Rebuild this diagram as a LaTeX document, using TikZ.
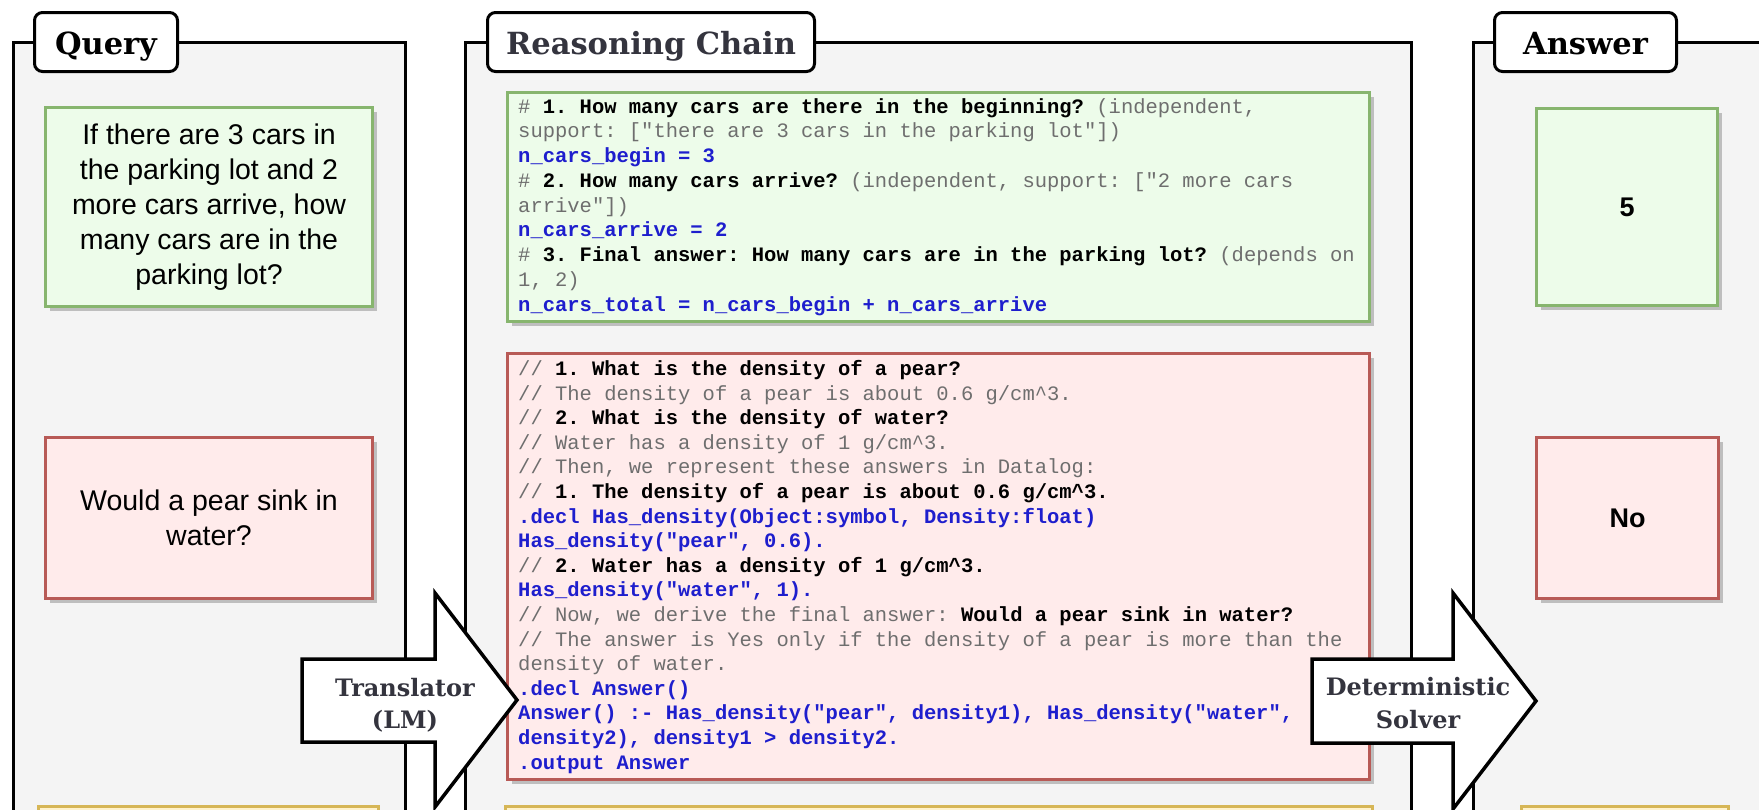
\documentclass[tikz,border=0pt]{standalone}
\usepackage{fontspec}
\newfontfamily\arialfont{Liberation Sans}
\newfontfamily\codefont{Liberation Mono}
\newfontfamily\titlefont{DejaVu Serif}
\definecolor{panelgray}{RGB}{244,244,244}
\definecolor{gfill}{RGB}{237,252,234}
\definecolor{gstroke}{RGB}{135,181,110}
\definecolor{rfill}{RGB}{255,235,235}
\definecolor{rstroke}{RGB}{184,90,86}
\definecolor{yfill}{RGB}{255,242,204}
\definecolor{ystroke}{RGB}{214,182,86}
\definecolor{cgray}{RGB}{110,110,110}
\definecolor{cblue}{RGB}{30,30,205}
\definecolor{labelgray}{RGB}{52,52,62}
\definecolor{shadowgray}{RGB}{190,190,190}
\newcommand\cgr[1]{\textcolor{cgray}{#1}}
\newcommand\cbk[1]{\textcolor{black}{\bfseries #1}}
\newcommand\cbl[1]{\textcolor{cblue}{\bfseries #1}}
\newcommand\codeln[3]{\node[codeline] (#1) at (518,#2) {#3};}
\tikzset{
  panel/.style={draw=black, line width=3pt, fill=panelgray, anchor=north west, inner sep=0pt, outer sep=0pt},
  titlebox/.style={draw=black, line width=3pt, fill=white, rounded corners=8pt, inner sep=0pt,
    font=\titlefont\bfseries\fontsize{30.5}{38}\selectfont, text height=24pt, text depth=0pt},
  shadowed/.style={preaction={draw=none, fill=shadowgray, transform canvas={xshift=4pt,yshift=-4pt}}},
  gbox/.style={draw=gstroke, fill=gfill, line width=3pt, inner sep=0pt, shadowed},
  rbox/.style={draw=rstroke, fill=rfill, line width=3pt, inner sep=0pt, shadowed},
  qtext/.style={font=\arialfont\fontsize{28.5}{35}\selectfont, align=center},
  anstext/.style={font=\arialfont\fontsize{27}{32}\selectfont\bfseries},
  codeline/.style={font=\codefont\fontsize{20.5}{24.6}\selectfont\frenchspacing, anchor=base west, inner sep=0pt},
  bigarrow/.style={draw=black, line width=3.5pt, fill=white, line join=miter},
  arrowlabel/.style={font=\titlefont\bfseries\fontsize{24}{32.5}\selectfont, text=labelgray, align=center, inner sep=0pt},
  ybox/.style={draw=ystroke, fill=yfill, line width=3pt},
}
\begin{document}
\begin{tikzpicture}[x=1pt,y=-1pt]
\useasboundingbox (0,0) rectangle (1759,809);
\clip (0,0) rectangle (1759,809);
\fill[white] (0,0) rectangle (1759,809);

% panels
\node[panel, minimum width=392, minimum height=820] (qpanel) at (13.5,42) {};
\node[panel, minimum width=946, minimum height=820] (rpanel) at (465.5,42) {};
\node[panel, minimum width=340, minimum height=820] (apanel) at (1473.5,42.5) {};

% titles
\node[titlebox, minimum width=143, minimum height=59] (qtitle) at (106,42) {Query};
\node[titlebox, minimum width=327, minimum height=59, text=labelgray] (rtitle) at (651,42) {Reasoning Chain};
\node[titlebox, minimum width=182, minimum height=59] (atitle) at (1585.5,42) {Answer};

% query boxes
\node[gbox, qtext, minimum width=327, minimum height=199] (qcars) at (209,207)
  {If there are 3 cars in\\the parking lot and 2\\more cars arrive, how\\many cars are in the\\parking lot?};
\node[rbox, qtext, minimum width=327, minimum height=161] (qpear) at (209,518)
  {Would a pear sink in\\water?};

% code boxes
\node[gbox, minimum width=862, minimum height=229] (ccars) at (938.5,207) {};
\node[rbox, minimum width=862, minimum height=426] (cpear) at (938.5,566.5) {};

\codeln{g1}{113}{\cgr{\# }\cbk{1. How many cars are there in the beginning?} \cgr{(independent,}}
\codeln{g2}{137.75}{\cgr{support: ["there are 3 cars in the parking lot"])}}
\codeln{g3}{162.5}{\cbl{n\_cars\_begin = 3}}
\codeln{g4}{187.25}{\cgr{\# }\cbk{2. How many cars arrive?} \cgr{(independent, support: ["2 more cars}}
\codeln{g5}{212}{\cgr{arrive"])}}
\codeln{g6}{236.75}{\cbl{n\_cars\_arrive = 2}}
\codeln{g7}{261.5}{\cgr{\# }\cbk{3. Final answer: How many cars are in the parking lot?} \cgr{(depends on}}
\codeln{g8}{286.25}{\cgr{1, 2)}}
\codeln{g9}{311}{\cbl{n\_cars\_total = n\_cars\_begin + n\_cars\_arrive}}

\codeln{r1}{375.5}{\cgr{// }\cbk{1. What is the density of a pear?}}
\codeln{r2}{400.1}{\cgr{// The density of a pear is about 0.6 g/cm\textasciicircum 3.}}
\codeln{r3}{424.7}{\cgr{// }\cbk{2. What is the density of water?}}
\codeln{r4}{449.3}{\cgr{// Water has a density of 1 g/cm\textasciicircum 3.}}
\codeln{r5}{473.9}{\cgr{// Then, we represent these answers in Datalog:}}
\codeln{r6}{498.5}{\cgr{// }\cbk{1. The density of a pear is about 0.6 g/cm\textasciicircum 3.}}
\codeln{r7}{523.1}{\cbl{.decl Has\_density(Object:symbol, Density:float)}}
\codeln{r8}{547.7}{\cbl{Has\_density("pear", 0.6).}}
\codeln{r9}{572.3}{\cgr{// }\cbk{2. Water has a density of 1 g/cm\textasciicircum 3.}}
\codeln{r10}{596.9}{\cbl{Has\_density("water", 1).}}
\codeln{r11}{621.5}{\cgr{// Now, we derive the final answer: }\cbk{Would a pear sink in water?}}
\codeln{r12}{646.1}{\cgr{// The answer is Yes only if the density of a pear is more than the}}
\codeln{r13}{670.7}{\cgr{density of water.}}
\codeln{r14}{695.3}{\cbl{.decl Answer()}}
\codeln{r15}{719.9}{\cbl{Answer() :- Has\_density("pear", density1), Has\_density("water",}}
\codeln{r16}{744.5}{\cbl{density2), density1 > density2.}}
\codeln{r17}{769.1}{\cbl{.output Answer}}

% answers
\node[gbox, anstext, minimum width=181, minimum height=197] (acars) at (1627,207) {5};
\node[rbox, anstext, minimum width=182, minimum height=161] (apear) at (1627.5,518) {No};

% next row (cut off)
\draw[ybox] (38,806) rectangle (378,870);
\draw[ybox] (505,806) rectangle (1372,870);
\draw[ybox] (1521,806) rectangle (1728,870);

% arrows
\draw[bigarrow] (302,659) -- (435,659) -- (435,593) -- (517,700) -- (435,807) -- (435,742) -- (302,742) -- cycle;
\node[arrowlabel] (translator) at (405,705) {Translator\\(LM)};
\draw[bigarrow] (1312,659) -- (1453,659) -- (1453,593) -- (1536,701) -- (1453,809) -- (1453,743) -- (1312,743) -- cycle;
\node[arrowlabel] (solver) at (1418,703) {Deterministic\\Solver};
\end{tikzpicture}
\end{document}
